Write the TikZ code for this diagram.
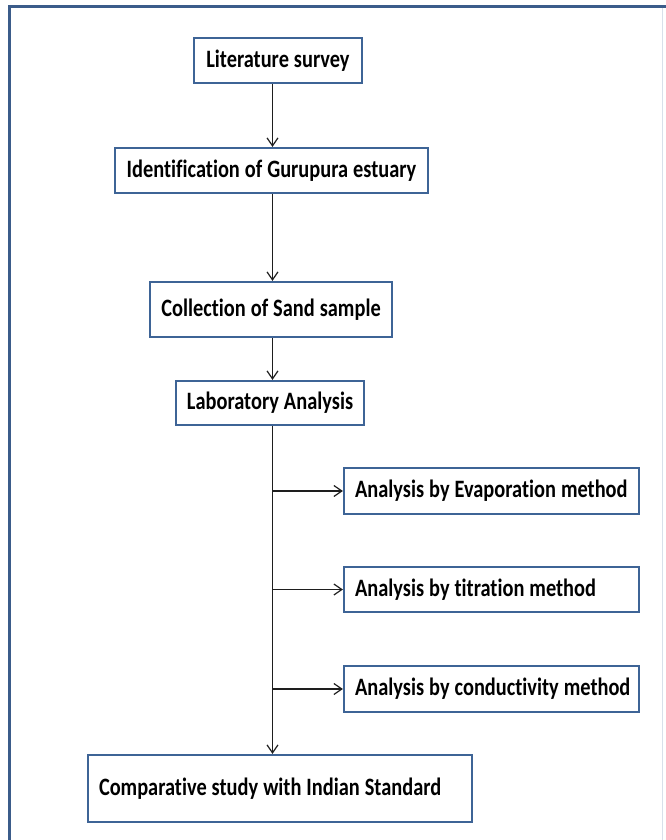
\documentclass[tikz,border=0pt]{standalone}
\usepackage{fontspec}
\setmainfont{Carlito}[FakeStretch=0.815, Ligatures=NoCommon]
\usetikzlibrary{arrows.meta}
\definecolor{frameblue}{RGB}{59,92,138}
\definecolor{boxblue}{RGB}{62,100,150}
\definecolor{linegray}{RGB}{30,30,30}
\newcommand\myboxfont{\fontsize{25}{28}\selectfont\bfseries\spaceskip 5pt\relax}
\tikzset{
  stepbox/.style={draw=boxblue, line width=2.2pt, fill=white, inner sep=0pt,
    font=\myboxfont, text=black},
  leftbox/.style={stepbox, align=left, inner xsep=11pt,
    execute at begin node={\spaceskip 5pt\relax\xspaceskip 5pt\relax}},
  conn/.style={draw=linegray, line width=1.3pt, -{Straight Barb[length=8pt,width=11pt,line width=1.2pt]}}
}
\begin{document}
\begin{tikzpicture}[x=1pt,y=-1pt]
\path[use as bounding box] (0,0) rectangle (665,840);
% outer frame
\draw[frameblue, line width=3pt] (9,845) -- (9,6.5) -- (670,6.5);
\draw[boxblue!20, line width=1pt] (662,8) -- (662,845);
% boxes
\node[stepbox, minimum width=168pt, minimum height=45pt] (lit) at (278,60.5) {Literature survey};
\node[stepbox, minimum width=313pt, minimum height=45pt] (ident) at (271.5,170.5) {Identification of Gurupura estuary};
\node[stepbox, minimum width=242pt, minimum height=55pt] (coll) at (271,309.5) {Collection of Sand sample};
\node[stepbox, minimum width=188pt, minimum height=44pt] (lab) at (270,403) {Laboratory Analysis};
\node[leftbox, text width=273pt, minimum height=46pt] (evap) at (491.5,491) {\mbox{Analysis by Evaporation method}};
\node[leftbox, text width=273pt, minimum height=45pt] (titr) at (491.5,589.5) {\mbox{Analysis by titration method}};
\node[leftbox, text width=273pt, minimum height=46pt] (cond) at (491.5,689) {\mbox{Analysis by conductivity method}};
\node[leftbox, text width=362pt, minimum height=67pt] (comp) at (280,788.5) {\mbox{Comparative study with Indian Standard}};
% spine
\coordinate (sx) at (272.5,0);
\draw[conn] (lit.south -| sx) -- (ident.north -| sx);
\draw[conn] (ident.south -| sx) -- (coll.north -| sx);
\draw[conn] (coll.south -| sx) -- (lab.north -| sx);
\draw[conn] (lab.south -| sx) -- (comp.north -| sx);
\draw[conn] (evap.west -| sx) -- (evap.west);
\draw[conn] (titr.west -| sx) -- (titr.west);
\draw[conn] (cond.west -| sx) -- (cond.west);
\end{tikzpicture}
\end{document}
